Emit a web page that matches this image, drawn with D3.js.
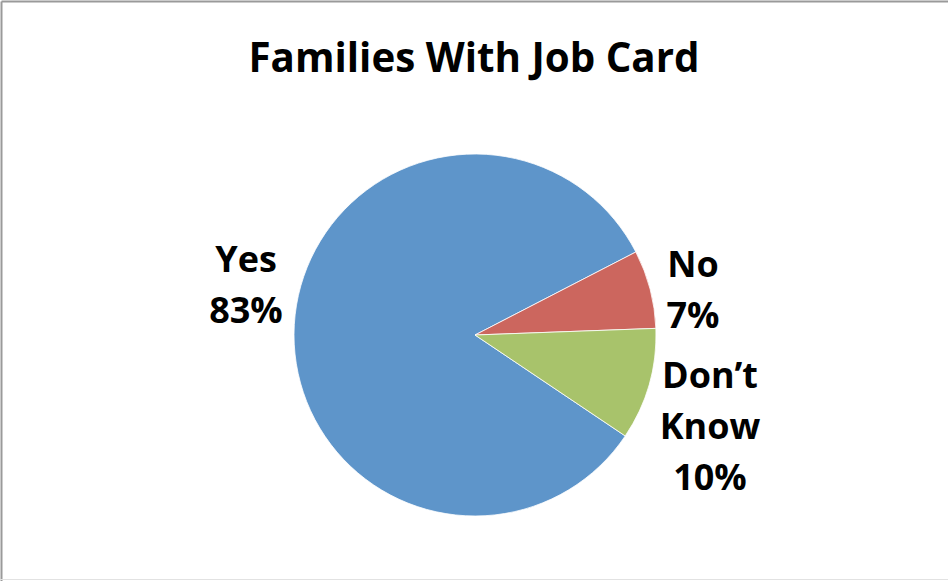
<!DOCTYPE html>
<html>
<head>
<meta charset="utf-8">
<script src="https://cdn.jsdelivr.net/npm/d3@7"></script>
<style>
  html, body { margin: 0; padding: 0; background: #fff; }
  svg { display: block; }
  text { font-family: "Open Sans", "Lato", sans-serif; font-weight: 700; fill: #000; }
</style>
</head>
<body>
<svg id="chart" width="948" height="581"></svg>
<script>
// Survey answers: share of families holding a job card
const categories = ["Yes", "No", "Don’t Know"];
const values = [83, 7, 10];
const labelLines = [["Yes", "83%"], ["No", "7%"], ["Don’t", "Know", "10%"]];
const colors = ["#5E95CA", "#CC665E", "#A8C36B"];
const title = "Families With Job Card";

const W = 948, H = 581;
const cx = 475, cy = 335, R = 181;
const firstSliceDeg = 123.9;   // where the first slice begins, clockwise from 12 o'clock

const svg = d3.select("#chart");

// chart frame
svg.append("line").attr("x1", 1.5).attr("y1", 1.5).attr("x2", W).attr("y2", 1.5)
  .attr("stroke", "#9a9a9a").attr("stroke-width", 2);
svg.append("line").attr("x1", 1.5).attr("y1", 1.5).attr("x2", 1.5).attr("y2", H)
  .attr("stroke", "#9a9a9a").attr("stroke-width", 2);
svg.append("line").attr("x1", 0).attr("y1", H - 1.5).attr("x2", W).attr("y2", H - 1.5)
  .attr("stroke", "#e2e2e2").attr("stroke-width", 1);

// set a text's font size so that it spans the given width
function fitWidth(sel, target, base) {
  sel.style("font-size", base + "px");
  const w = sel.node().getComputedTextLength();
  sel.style("font-size", (base * target / w).toFixed(2) + "px");
}

// title
const titleText = svg.append("text")
  .attr("x", 474).attr("y", 72)
  .attr("text-anchor", "middle")
  .text(title);
fitWidth(titleText, 451, 36);

const start = firstSliceDeg * Math.PI / 180;
const pie = d3.pie().sort(null).value(d => d)
  .startAngle(start).endAngle(start + 2 * Math.PI);
const arcs = pie(values);
const arc = d3.arc().innerRadius(0).outerRadius(R);

const g = svg.append("g").attr("transform", `translate(${cx},${cy})`);
g.selectAll("path.slice")
  .data(arcs)
  .join("path")
  .attr("class", "slice")
  .attr("d", arc)
  .attr("fill", (d, i) => colors[i])
  .attr("stroke", "#ffffff")
  .attr("stroke-width", 0.8);

// data labels placed outside the pie
const labelPos = [
  { x: 246, y: 272 },
  { x: 693, y: 277 },
  { x: 710, y: 388 }
];
const lineStep = 51;

// one shared label size, taken from the widest label line
const probe = svg.append("text").text("Don’t");
fitWidth(probe, 96, 32);
const labelSize = probe.style("font-size");
probe.remove();

arcs.forEach((a, i) => {
  const t = svg.append("text")
    .attr("text-anchor", "middle")
    .style("font-size", labelSize);
  labelLines[i].forEach((ln, k) => {
    t.append("tspan")
      .attr("x", labelPos[i].x)
      .attr("y", labelPos[i].y + k * lineStep)
      .text(ln);
  });
});
</script>
</body>
</html>
